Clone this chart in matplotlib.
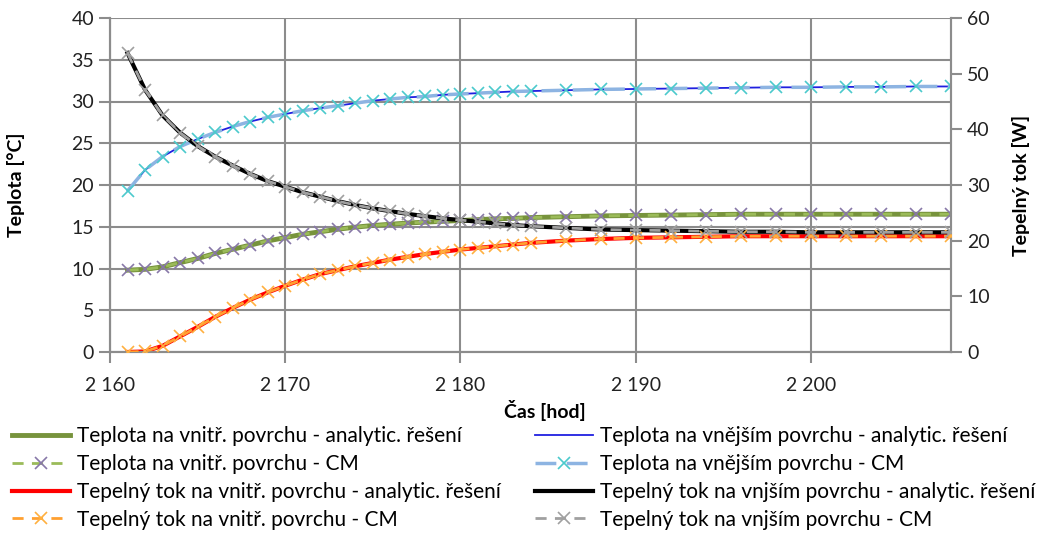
import matplotlib
matplotlib.use("Agg")
import matplotlib.pyplot as plt

plt.rcParams['font.family'] = ['Lato', 'DejaVu Sans']

# time [hod]
cas = [2161, 2162, 2163, 2164, 2165, 2166, 2167, 2168, 2169, 2170,
       2171, 2172, 2173, 2174, 2175, 2176, 2177, 2178, 2179, 2180,
       2181, 2182, 2183, 2184, 2186, 2188, 2190, 2192, 2194, 2196,
       2198, 2200, 2202, 2204, 2206, 2208]

# inner surface temperature [C]
t_vnitr = [9.8, 9.9, 10.2, 10.7, 11.2, 11.8, 12.3, 12.8, 13.3, 13.7,
           14.1, 14.4, 14.7, 14.95, 15.15, 15.3, 15.45, 15.55, 15.65, 15.75,
           15.85, 15.95, 16.0, 16.1, 16.2, 16.3, 16.35, 16.4, 16.45, 16.5,
           16.5, 16.5, 16.5, 16.5, 16.5, 16.5]

# outer surface temperature [C]
t_vnejsi = [19.3, 21.8, 23.4, 24.6, 25.5, 26.3, 27.0, 27.6, 28.1, 28.5,
            28.9, 29.2, 29.5, 29.8, 30.1, 30.3, 30.5, 30.6, 30.8, 30.9,
            31.0, 31.1, 31.2, 31.25, 31.35, 31.45, 31.5, 31.55, 31.6, 31.65,
            31.7, 31.7, 31.75, 31.75, 31.8, 31.8]

# heat flow on inner surface [W]
q_vnitr = [0.0, 0.1, 1.1, 2.8, 4.5, 6.3, 7.9, 9.4, 10.7, 11.9,
           13.0, 14.0, 14.7, 15.4, 16.0, 16.6, 17.1, 17.6, 18.0, 18.4,
           18.7, 19.0, 19.3, 19.6, 20.0, 20.3, 20.5, 20.6, 20.7, 20.8,
           20.8, 20.8, 20.8, 20.8, 20.8, 20.8]

# heat flow on outer surface [W]
q_vnejsi = [53.7, 47.1, 42.5, 39.4, 37.0, 35.1, 33.5, 32.0, 30.7, 29.7,
            28.7, 27.9, 27.1, 26.4, 25.8, 25.3, 24.8, 24.4, 24.0, 23.7,
            23.4, 23.1, 22.8, 22.6, 22.3, 22.0, 21.9, 21.8, 21.7, 21.6,
            21.6, 21.5, 21.5, 21.5, 21.5, 21.5]

labels = ["Teplota na vnitř. povrchu - analytic. řešení",
          "Teplota na vnitř. povrchu - CM",
          "Tepelný tok na vnitř. povrchu - analytic. řešení",
          "Tepelný tok na vnitř. povrchu - CM",
          "Teplota na vnějším povrchu - analytic. řešení",
          "Teplota na vnějším povrchu - CM",
          "Tepelný tok na vnjším povrchu - analytic. řešení",
          "Tepelný tok na vnjším povrchu - CM"]

gridc = "#8c8c8c"
fs = 14
lfs = 15

fig = plt.figure(figsize=(10.61, 5.34), dpi=100)
ax = fig.add_axes([110 / 1061, 1 - 352 / 534, 841 / 1061, 334 / 534])
ax2 = ax.twinx()

h1, = ax.plot(cas, t_vnitr, color="#77933C", lw=3.5, zorder=2)
h5, = ax.plot(cas, t_vnejsi, color="#2020E0", lw=1.3, zorder=2)
h2, = ax.plot(cas, t_vnitr, color="#9BBB59", lw=2, ls=(0, (4, 3)),
              marker="x", ms=9, mew=1.2, mec="#8878A8", zorder=3)
h6, = ax.plot(cas, t_vnejsi, color="#8DB4E2", lw=2.5, ls=(0, (6, 3)),
              marker="x", ms=9, mew=1.2, mec="#4BCACC", zorder=3)

h3, = ax2.plot(cas, q_vnitr, color="#FF0000", lw=3, zorder=2)
h7, = ax2.plot(cas, q_vnejsi, color="#000000", lw=3, zorder=2)
h4, = ax2.plot(cas, q_vnitr, color="#FFA030", lw=2, ls=(0, (4, 3)),
               marker="x", ms=9, mew=1.2, mec="#FFB040", zorder=3)
h8, = ax2.plot(cas, q_vnejsi, color="#A0A0A0", lw=2, ls=(0, (4, 3)),
               marker="x", ms=9, mew=1.2, mec="#A0A0A0", zorder=3)

ax.set_xlim(2160, 2208)
ax.set_ylim(0, 40)
ax2.set_ylim(0, 60)
ax.set_xticks([2160, 2170, 2180, 2190, 2200])
ax.set_xticklabels(["2 160", "2 170", "2 180", "2 190", "2 200"])
ax.set_yticks(range(0, 41, 5))
ax2.set_yticks(range(0, 61, 10))

ax.grid(True, color=gridc, lw=1.5)
ax.set_axisbelow(True)
for a in (ax, ax2):
    for s in a.spines.values():
        s.set_color(gridc)
        s.set_linewidth(1.5)
    a.tick_params(colors=gridc, labelcolor="#222222", labelsize=fs,
                  length=8, width=1.5, direction="out")
ax.tick_params(axis="x", pad=10)
ax.spines["top"].set_visible(False)
ax2.spines["top"].set_visible(False)

ax.set_ylabel("Teplota [°C]", fontsize=fs, fontweight="bold")
ax.yaxis.set_label_coords(-0.101, 0.5)
ax2.set_ylabel("Tepelný tok [W]", fontsize=fs, fontweight="bold")
ax2.yaxis.set_label_coords(1.0725, 0.5)
ax.set_xlabel("Čas [hod]", fontsize=fs, fontweight="bold")
ax.xaxis.set_label_coords(0.517, -0.145)

leg_kw = dict(frameon=False, fontsize=lfs, handlelength=2.8, handletextpad=0.3,
              labelspacing=0.38, loc="upper left", borderaxespad=0, borderpad=0)
fig.legend([h1, h2, h3, h4], labels[:4], bbox_to_anchor=(12 / 1061, 1 - 426 / 534), **leg_kw)
fig.legend([h5, h6, h7, h8], labels[4:], bbox_to_anchor=(535 / 1061, 1 - 426 / 534), **leg_kw)

fig.savefig("out.png", dpi=100)
